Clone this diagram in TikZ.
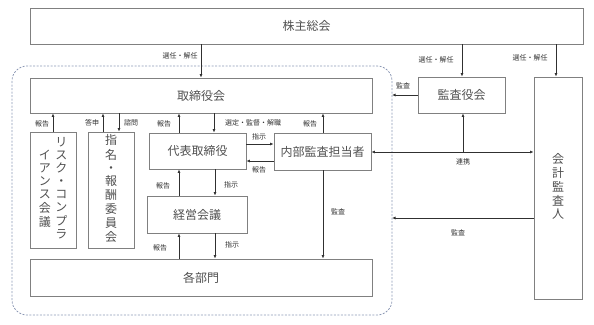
\documentclass[tikz,border=0pt]{standalone}
\usepackage{fontspec}
\setmainfont{Noto Sans CJK JP}
\newfontfamily\jp{Noto Sans CJK JP}
\newfontfamily\jplight{Noto Sans CJK JP Light}
\usetikzlibrary{arrows.meta,calc}
\definecolor{boxline}{HTML}{808080}
\definecolor{arrline}{HTML}{303030}
\definecolor{dashline}{HTML}{8C98B4}
\definecolor{txt}{HTML}{505050}
\newcommand{\vt}[1]{\begin{tabular}[c]{@{}c@{}}#1\end{tabular}}
\begin{document}
\begin{tikzpicture}[x=1pt,y=-1pt,
  box/.style={draw=boxline,line width=0.9pt,inner sep=0pt,text=txt,font=\jp\fontsize{12}{13}\selectfont},
  arr/.style={draw=arrline,line width=0.9pt,-{Latex[length=3.5pt,width=3pt]}},
  darr/.style={draw=arrline,line width=0.9pt,{Latex[length=3.5pt,width=3pt]}-{Latex[length=3.5pt,width=3pt]}},
  lbl/.style={font=\jp\fontsize{7}{8}\selectfont,text=arrline,inner sep=1pt}]
\useasboundingbox (0,0) rectangle (594,324);
% dashed group
\draw[dashline,line width=0.8pt,dash pattern=on 2pt off 1.5pt,rounded corners=15pt] (12,66) rectangle (392,315);
% boxes
\node[box,minimum width=553pt,minimum height=36pt] (kabu) at (306.5,26) {株主総会};
\node[box,minimum width=342pt,minimum height=35pt] (tori) at (201,95.5) {取締役会};
\node[box,minimum width=87pt,minimum height=36pt] (kansa) at (461.5,95) {監査役会};
\node[box,minimum width=48pt,minimum height=222pt] (kaikei) at (558,188) {\vt{会\\計\\監\\査\\人}};
\node[box,minimum width=46pt,minimum height=116pt] (risk) at (53,190) {\begin{tabular}{@{}c@{\hspace{4.5pt}}c@{}}\vt{イ\\ア\\ン\\ス\\会\\議}&\vt{リ\\ス\\ク\\・\\コ\\ン\\プ\\ラ}\end{tabular}};
\node[box,minimum width=46pt,minimum height=116pt] (shimei) at (111,190) {\vt{指\\名\\・\\報\\酬\\委\\員\\会}};
\node[box,minimum width=97pt,minimum height=36pt] (daihyo) at (197.5,151) {代表取締役};
\node[box,minimum width=97pt,minimum height=37pt] (naibu) at (322.5,151.5) {内部監査担当者};
\node[box,minimum width=100pt,minimum height=37pt] (keiei) at (197,214.5) {経営会議};
\node[box,minimum width=342pt,minimum height=37pt] (bumon) at (201,277.5) {各部門};
\coordinate (gright1) at (392,95);
\coordinate (gright2) at (392,218);
\coordinate (junc) at (463,152);
% shareholders
\draw[arr] (kabu.south -| tori.north) -- (tori.north);
\node[lbl] at (180,56) {選任・解任};
\draw[arr] (kabu.south -| 462,0) -- (kansa.north -| 462,0);
\node[lbl] at (436,60) {選任・解任};
\draw[arr] (kabu.south -| 556,0) -- (kaikei.north -| 556,0);
\node[lbl] at (530,58) {選任・解任};
% kansa -> group
\draw[arr] (kansa.west) -- (gright1);
\node[lbl] at (403,86) {監査};
% board relations
\draw[arr] (risk.north) -- (risk.north |- tori.south);
\node[lbl] at (42,124) {報告};
\draw[arr] (shimei.north -| 103,0) -- (tori.south -| 103,0);
\node[lbl] at (92,123) {答申};
\draw[arr] (tori.south -| 119,0) -- (shimei.north -| 119,0);
\node[lbl] at (131,123) {諮問};
\draw[arr] (daihyo.north -| 179,0) -- (tori.south -| 179,0);
\node[lbl] at (164,124) {報告};
\draw[arr] (tori.south -| 214,0) -- (daihyo.north -| 214,0);
\node[lbl] at (253,123) {選定・監督・解職};
\draw[arr] (naibu.north -| 323,0) -- (tori.south -| 323,0);
\node[lbl] at (310,124) {報告};
% daihyo <-> naibu
\draw[arr] (daihyo.east |- 0,144) -- (naibu.west |- 0,144);
\node[lbl] at (259,137) {指示};
\draw[arr] (naibu.west |- 0,161) -- (daihyo.east |- 0,161);
\node[lbl] at (259,170) {報告};
% daihyo <-> keiei
\draw[arr] (keiei.north -| 179,0) -- (daihyo.south -| 179,0);
\node[lbl] at (163,186) {報告};
\draw[arr] (daihyo.south -| 215,0) -- (keiei.north -| 215,0);
\node[lbl] at (231,185) {指示};
% keiei <-> bumon
\draw[arr] (bumon.north -| 179,0) -- (keiei.south -| 179,0);
\node[lbl] at (160,248) {報告};
\draw[arr] (keiei.south -| 215,0) -- (bumon.north -| 215,0);
\node[lbl] at (232,245) {指示};
% naibu -> bumon
\draw[arr] (naibu.south -| 323,0) -- (bumon.north -| 323,0);
\node[lbl] at (338,212) {監査};
% renkei
\draw[darr] (naibu.east |- junc) -- (kaikei.west |- junc);
\draw[arr] (junc) -- (kansa.south -| junc);
\node[lbl] at (463,162) {連携};
% kaikei -> group
\draw[arr] (kaikei.west |- gright2) -- (gright2);
\node[lbl] at (458,233) {監査};
\end{tikzpicture}
\end{document}
